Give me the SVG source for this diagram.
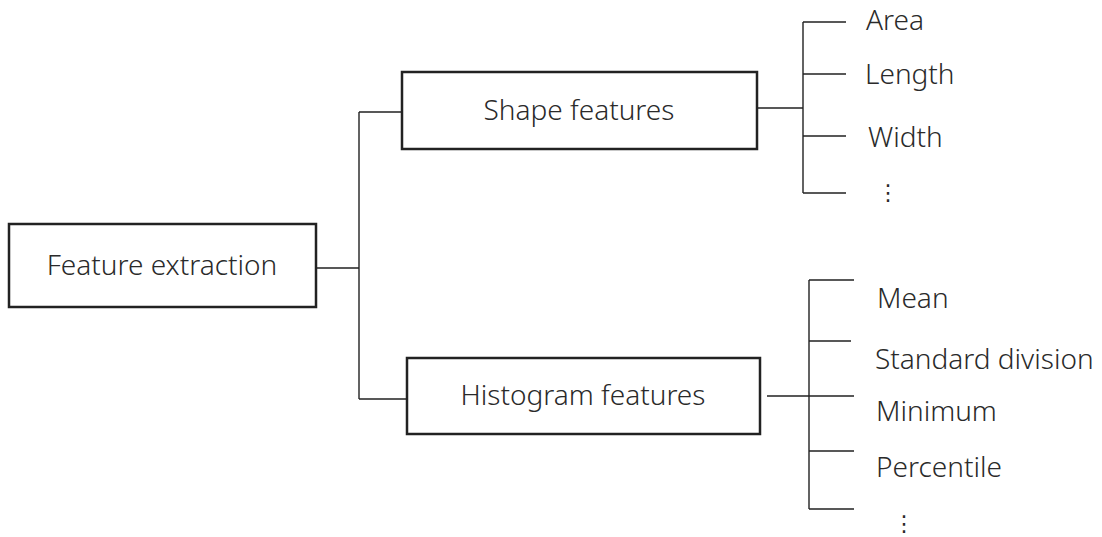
<svg xmlns="http://www.w3.org/2000/svg" width="1102" height="537" viewBox="0 0 1102 537">
  <style>
    .box { fill: #ffffff; stroke: #222222; stroke-width: 2.5; }
    .wire { fill: none; stroke: #222222; stroke-width: 1.4; }
    .lbl { font-family: "Noto Sans", "Open Sans", "DejaVu Sans", sans-serif; font-size: 28px; font-weight: 300; fill: #2a2a2a; }
    .mid { text-anchor: middle; }
    .dots { font-family: "DejaVu Sans", sans-serif; font-size: 22px; fill: #2a2a2a; }
  </style>
  <rect width="1102" height="537" fill="#ffffff"/>

  <!-- connectors -->
  <g id="connectors" class="wire">
    <!-- root to the two feature groups -->
    <path d="M316 268 H359 M359 112 V399 M359 112 H402 M359 399 H407"/>
    <!-- shape features branches -->
    <path d="M757 108 H803 M803 22 V193 M803 22 H846 M803 74 H846 M803 136 H846 M803 193 H846"/>
    <!-- histogram features branches -->
    <path d="M767 396 H809 M809 280 V509 M809 280 H854 M809 341 H851 M809 396 H854 M809 451 H854 M809 509 H854"/>
  </g>

  <g id="feature-extraction">
    <rect class="box" x="9" y="224" width="307" height="83"/>
    <text class="lbl mid" x="162" y="275">Feature extraction</text>
  </g>

  <g id="shape-features">
    <rect class="box" x="402" y="72" width="355" height="77"/>
    <text class="lbl mid" x="579" y="120">Shape features</text>
  </g>

  <g id="histogram-features">
    <rect class="box" x="407" y="358" width="353" height="76"/>
    <text class="lbl mid" x="583" y="405">Histogram features</text>
  </g>

  <g id="shape-items">
    <text class="lbl" x="866" y="30">Area</text>
    <text class="lbl" x="865" y="84">Length</text>
    <text class="lbl" x="868" y="147">Width</text>
    <text class="dots" x="877" y="200">⋮</text>
  </g>

  <g id="histogram-items">
    <text class="lbl" x="877" y="308">Mean</text>
    <text class="lbl" x="875" y="369">Standard division</text>
    <text class="lbl" x="876" y="421">Minimum</text>
    <text class="lbl" x="876" y="477">Percentile</text>
    <text class="dots" x="893" y="531">⋮</text>
  </g>
</svg>
